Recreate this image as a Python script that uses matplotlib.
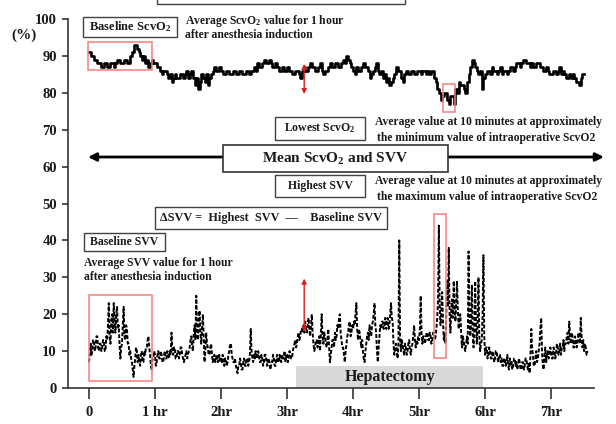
import numpy as np
import matplotlib
matplotlib.use("Agg")
import matplotlib.pyplot as plt
from matplotlib.patches import Rectangle

plt.rcParams['font.family'] = ['Liberation Serif', 'DejaVu Serif']
plt.rcParams['font.weight'] = 'bold'
plt.rcParams['mathtext.fontset'] = 'custom'
plt.rcParams['mathtext.rm'] = 'Liberation Serif:bold'
plt.rcParams['mathtext.it'] = 'Liberation Serif:bold'
plt.rcParams['mathtext.bf'] = 'Liberation Serif:bold'

# ScvO2 (%), one reading every 1.5 min from induction
scvo2_step = 0.025
scvo2 = [
    91, 90, 90, 89, 89, 88, 88, 87, 87, 88, 88, 87, 87, 88, 88, 87, 88, 89, 89, 88,
    88, 89, 89, 88, 88, 90, 91, 93, 93, 92, 91, 90, 89, 90, 88, 89, 87, 88, 89, 88,
    88, 87, 87, 86, 85, 86, 86, 85, 84, 85, 83, 84, 85, 84, 84, 85, 85, 84, 85, 86,
    84, 85, 86, 84, 82, 84, 81, 83, 85, 84, 83, 85, 82, 84, 85, 86, 87, 86, 86, 87,
    86, 85, 85, 86, 86, 85, 85, 86, 86, 85, 85, 86, 86, 85, 85, 86, 86, 85, 86, 86,
    87, 86, 88, 87, 87, 88, 89, 88, 88, 89, 88, 87, 87, 88, 87, 86, 86, 87, 86, 86,
    87, 86, 86, 85, 85, 86, 86, 85, 84, 86, 87, 86, 86, 87, 88, 87, 87, 86, 86, 87,
    88, 86, 85, 86, 86, 87, 88, 87, 87, 88, 88, 87, 87, 88, 89, 88, 90, 89, 88, 87,
    86, 85, 87, 86, 86, 87, 88, 87, 87, 86, 84, 85, 86, 87, 88, 86, 85, 86, 84, 85,
    83, 84, 82, 83, 84, 85, 87, 86, 86, 84, 83, 85, 86, 85, 85, 86, 86, 85, 85, 86,
    86, 85, 86, 86, 85, 86, 85, 86, 86, 84, 83, 81, 80, 78, 79, 80, 80, 78, 77, 79,
    79, 77, 81, 80, 83, 82, 82, 81, 80, 83, 85, 87, 89, 88, 87, 86, 85, 86, 81, 84,
    85, 86, 86, 85, 87, 86, 86, 85, 86, 87, 85, 86, 86, 85, 86, 87, 87, 86, 87, 88,
    88, 87, 88, 89, 89, 88, 88, 87, 88, 87, 87, 88, 88, 87, 87, 86, 86, 87, 86, 85,
    85, 86, 86, 85, 86, 87, 85, 86, 85, 84, 84, 85, 84, 85, 84, 83, 83, 82, 84, 85,
    85,
]

# SVV (%), one reading every 45 s
svv_step = 0.0125
svv = [
    7, 9, 12, 9, 10, 13, 13, 10, 11, 14, 14, 11, 10, 12, 12, 10, 11, 13, 13, 10,
    10, 14, 13, 17, 23, 14, 12, 18, 20, 15, 23, 18, 15, 20, 22, 16, 17, 12, 8, 11,
    12, 17, 22, 14, 13, 17, 16, 12, 12, 9, 10, 8, 7, 5, 3, 6, 8, 11, 10, 7,
    9, 7, 6, 9, 10, 7, 7, 10, 9, 11, 11, 13, 14, 11, 9, 6, 5, 8, 8, 10,
    9, 6, 7, 9, 10, 8, 8, 10, 9, 7, 7, 9, 10, 8, 8, 10, 9, 8, 10, 9,
    15, 10, 9, 11, 11, 8, 8, 10, 10, 8, 9, 11, 11, 9, 8, 7, 8, 9, 10, 8,
    9, 10, 11, 13, 14, 11, 10, 15, 17, 13, 25, 16, 13, 18, 21, 15, 12, 16, 20, 14,
    7, 10, 15, 12, 11, 9, 9, 11, 12, 9, 7, 8, 9, 7, 8, 9, 7, 8, 9, 7,
    8, 7, 9, 8, 6, 8, 8, 6, 7, 9, 10, 12, 12, 9, 8, 7, 7, 8, 6, 5,
    4, 6, 6, 8, 7, 5, 5, 7, 8, 6, 6, 8, 8, 6, 7, 9, 16, 10, 8, 7,
    9, 8, 10, 8, 8, 10, 9, 7, 7, 9, 8, 6, 7, 9, 9, 7, 6, 8, 8, 6,
    5, 7, 7, 9, 8, 6, 6, 8, 9, 7, 7, 9, 8, 7, 9, 8, 8, 10, 7, 9,
    9, 7, 8, 10, 9, 8, 8, 10, 11, 12, 13, 11, 12, 14, 15, 13, 14, 16, 16, 15,
    17, 15, 18, 16, 15, 17, 19, 16, 14, 17, 20, 15, 12, 10, 11, 13, 13, 11, 12, 14,
    10, 15, 20, 14, 12, 15, 14, 12, 11, 13, 16, 11, 7, 9, 11, 13, 13, 11, 15, 13,
    14, 17, 16, 19, 20, 15, 13, 11, 11, 9, 7, 10, 12, 14, 15, 17, 18, 14, 15, 17,
    16, 18, 17, 20, 23, 16, 13, 16, 15, 13, 11, 13, 10, 8, 7, 10, 12, 14, 15, 13,
    17, 15, 14, 17, 18, 20, 23, 17, 15, 10, 7, 11, 14, 17, 16, 18, 18, 16, 17, 19,
    16, 18, 19, 16, 17, 20, 23, 19, 18, 12, 9, 11, 12, 10, 8, 12, 40, 14, 10, 13,
    12, 10, 9, 12, 11, 9, 10, 12, 13, 10, 9, 11, 12, 14, 17, 13, 11, 13, 12, 14,
    13, 16, 25, 15, 12, 14, 14, 12, 13, 15, 15, 13, 13, 15, 14, 12, 13, 15, 15, 13,
    14, 16, 19, 24, 44, 22, 17, 21, 26, 18, 13, 15, 12, 20, 29, 22, 38, 20, 15, 21,
    24, 19, 29, 22, 18, 23, 29, 21, 16, 19, 20, 15, 11, 14, 13, 11, 10, 12, 14, 12,
    37, 20, 14, 18, 28, 15, 11, 16, 29, 16, 12, 18, 30, 14, 10, 12, 13, 20, 36, 14,
    9, 11, 11, 8, 9, 11, 10, 8, 8, 10, 9, 7, 8, 10, 10, 8, 7, 9, 9, 7,
    8, 6, 6, 8, 8, 6, 7, 9, 6, 5, 8, 6, 7, 5, 6, 8, 8, 6, 7, 5,
    6, 8, 7, 5, 5, 7, 7, 5, 6, 8, 8, 6, 5, 7, 4, 9, 16, 11, 9, 6,
    6, 8, 10, 7, 8, 10, 12, 16, 19, 10, 6, 5, 9, 11, 7, 9, 10, 8, 9, 11,
    10, 8, 8, 11, 10, 8, 9, 12, 11, 9, 10, 12, 9, 11, 11, 13, 10, 12, 12, 14,
    15, 12, 18, 14, 12, 15, 14, 11, 11, 14, 13, 11, 12, 15, 14, 12, 19, 14, 11, 13,
    10, 12, 11, 9, 10,
]

hour_ticks = [0, 1, 2, 3, 4, 5, 6, 7]
hour_labels = ['0', '1 hr', '2hr', '3hr', '4hr', '5hr', '6hr', '7hr']
pct_ticks = [0, 10, 20, 30, 40, 50, 60, 70, 80, 90, 100]

# time windows used for the indices (hours) and the hepatectomy period
baseline_win = (0.0, 0.95)
lowest_win = (5.36, 5.55)
highest_win = (5.23, 5.41)
hepatectomy = (3.14, 5.97)
delta_time = 3.26

W, H = 616, 424
fig = plt.figure(figsize=(W / 100, H / 100), dpi=100)
ax = fig.add_axes([68 / W, 1 - 388 / H, (594 - 68) / W, (388 - 19) / H])
ax.set_xlim(-0.318, 7.65)
ax.set_ylim(0, 100)

t1 = np.arange(len(scvo2)) * scvo2_step
t2 = np.arange(len(svv)) * svv_step
ax.plot(t1, scvo2, color='black', lw=1.9, drawstyle='steps-post', zorder=3)
ax.plot(t2, svv, color='black', lw=1.4, ls=(0, (2, 1)), zorder=3)

# hepatectomy bar
ax.add_patch(Rectangle((hepatectomy[0], 0), hepatectomy[1] - hepatectomy[0], 6,
                       fc='#d9d9d9', ec='none', zorder=1))
ax.text(sum(hepatectomy) / 2, 3, 'Hepatectomy', ha='center', va='center',
        fontsize=11.5, color='#1a1a1a', zorder=2)

# highlighted windows
red = '#f28080'
def window(x0, x1, y0, y1):
    ax.add_patch(Rectangle((x0, y0), x1 - x0, y1 - y0, fill=False, ec=red,
                           lw=1.1, zorder=4, clip_on=False))

window(-0.02, baseline_win[1], 86.2, 93.8)
window(lowest_win[0], lowest_win[1], 74.8, 82.4)
window(0.0, baseline_win[1], 1.9, 25.2)
window(highest_win[0], highest_win[1], 8.1, 47.2)

# red double arrows
for y0, y1 in [(78.9, 88.6), (14.4, 30.4)]:
    ax.annotate('', xy=(delta_time, y1), xytext=(delta_time, y0),
                arrowprops=dict(arrowstyle='<|-|>', color='#d62020', lw=1.0,
                                mutation_scale=7), zorder=5)

# long black arrow across the plot
ax.annotate('', xy=(7.8, 62.6), xytext=(-0.015, 62.6), annotation_clip=False,
            arrowprops=dict(arrowstyle='<|-|>', color='black', lw=2.0,
                            mutation_scale=12, shrinkA=0, shrinkB=0))

ax.spines['top'].set_visible(False)
ax.spines['right'].set_visible(False)
for s in ['left', 'bottom']:
    ax.spines[s].set_color('#333333')
    ax.spines[s].set_linewidth(1.2)
ax.set_xticks(hour_ticks)
ax.set_xticklabels(hour_labels)
ax.set_yticks(pct_ticks)
ax.set_yticklabels([str(v) for v in pct_ticks])
ax.tick_params(axis='x', length=8, width=1.2, pad=5, labelsize=10.5, colors='#333333',
               labelcolor='#1a1a1a')
ax.tick_params(axis='y', length=4, width=1.2, pad=4, labelsize=10.5, colors='#333333',
               labelcolor='#1a1a1a')


# boxes and captions placed in figure pixels
def fbox(x0, y0, x1, y1, lw=1.0, ec='#404040'):
    fig.add_artist(Rectangle((x0 / W, 1 - y1 / H), (x1 - x0) / W, (y1 - y0) / H,
                             transform=fig.transFigure, fc='white', ec=ec, lw=lw,
                             zorder=6))

def ftext(x, y, s, size=8, ha='left'):
    fig.text(x / W, 1 - y / H, s, ha=ha, va='center', fontsize=size,
             color='#1a1a1a', zorder=7)

fig.text(24 / W, 1 - 35 / H, '(%)', ha='center', va='center', fontsize=11,
         color='#1a1a1a')

fbox(157, -10, 405, 4)

fbox(83, 17, 177, 37)
ftext(130, 27, r'Baseline ScvO$_2$', 9, 'center')
ftext(185, 21, r'Average ScvO$_2$ value for 1 hour', 8.4)
ftext(185, 35, 'after anesthesia induction', 8.4)

fbox(275, 117, 365, 140)
ftext(320, 128.5, r'Lowest ScvO$_2$', 8.5, 'center')
ftext(375, 122, 'Average value at 10 minutes at approximately', 8.4)
ftext(377, 138, 'the minimum value of intraoperative ScvO2', 8.4)

fbox(223, 145, 448, 172, lw=1.2, ec='#333333')
ftext(335.5, 158.5, r'Mean ScvO$_2$ and SVV', 11, 'center')

fbox(275, 175, 365, 197)
ftext(320, 186, 'Highest SVV', 8.5, 'center')
ftext(375, 181, 'Average value at 10 minutes at approximately', 8.4)
ftext(377, 197, 'the maximum value of intraoperative ScvO2', 8.4)

fbox(155, 207, 387, 229)
ftext(271, 218, '\u0394SVV =  Highest  SVV  \u2014    Baseline SVV', 8.8, 'center')

fbox(84, 233, 165, 251)
ftext(124.5, 242, 'Baseline SVV', 8.5, 'center')
ftext(84, 263, 'Average SVV value for 1 hour', 8.4)
ftext(84, 277, 'after anesthesia induction', 8.4)

fig.savefig('out.png', dpi=100)
